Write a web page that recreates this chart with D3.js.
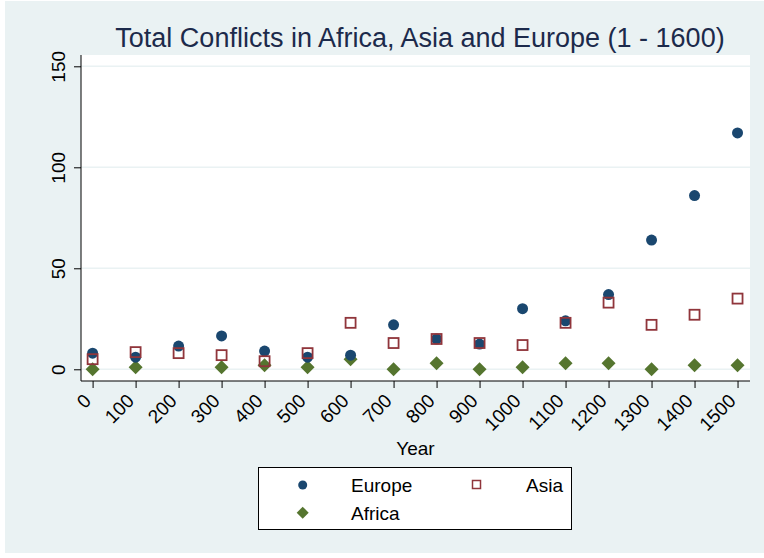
<!DOCTYPE html>
<html><head><meta charset="utf-8">
<script src="https://cdn.jsdelivr.net/npm/d3@7"></script>
<style>body{margin:0;background:#fff}svg{display:block;font-family:"Liberation Sans",Arial,sans-serif}</style>
</head><body><svg id="c" width="764" height="558"></svg>
<script>
const years = [0,100,200,300,400,500,600,700,800,900,1000,1100,1200,1300,1400,1500];
const europe = [8,6,11.5,16.5,9,6,7,22,15,12.5,30,24,37,64,86,117];
const asia = [5,8.5,8,7,4,8,23,13,15,13,12,23,33,22,27,35];
const africa = [0,1,null,1,2,1,5,0,3,0,1,3,3,0,2,2];
const yTicks = [0,50,100,150];
const title = "Total Conflicts in Africa, Asia and Europe (1 - 1600)";

const svg = d3.select("#c");
svg.append("rect").attr("x",5).attr("y",1).attr("width",759).attr("height",552).attr("fill","#eaf2f3");
const L=81,R=750,T=55,B=381;
svg.append("rect").attr("x",L).attr("y",T).attr("width",R-L).attr("height",B-T).attr("fill","#fff");
const x = d3.scaleLinear().domain([-27,1529]).range([L,R]);
const y = d3.scaleLinear().domain([-5.8,155.6]).range([B,T]);

// gridlines
svg.append("g").selectAll("line").data(yTicks).join("line")
  .attr("x1",L).attr("x2",R).attr("y1",d=>y(d)).attr("y2",d=>y(d))
  .attr("stroke","#eaf2f3").attr("stroke-width",1.5);

// y axis
const ya = svg.append("g").attr("transform",`translate(${L},0)`)
  .call(d3.axisLeft(y).tickValues(yTicks).tickSize(7).tickSizeOuter(0).tickPadding(0));
ya.select(".domain").attr("stroke","#000").attr("d",`M0,${T}V${B}`);
ya.selectAll(".tick line").attr("stroke","#000");
ya.selectAll(".tick text").attr("font-size",19).attr("fill","#000")
  .attr("text-anchor","middle").attr("transform","translate(-16,0) rotate(-90)").attr("x",0).attr("dy",0);

// x axis
const xa = svg.append("g").attr("transform",`translate(0,${B})`)
  .call(d3.axisBottom(x).tickValues(years).tickSize(7).tickSizeOuter(0).tickFormat(d3.format("d")));
xa.select(".domain").attr("stroke","#000").attr("d",`M${L},0H${R}`);
xa.selectAll(".tick line").attr("stroke","#000");
xa.selectAll(".tick text").attr("font-size",19).attr("fill","#000")
  .attr("text-anchor","end").attr("y",0).attr("dy",0)
  .attr("transform","translate(-1,21) rotate(-45)");

// axis title
svg.append("text").attr("x",(L+R)/2).attr("y",455).attr("text-anchor","middle")
  .attr("font-size",19).attr("fill","#000").text("Year");

// title
svg.append("text").attr("x",420).attr("y",47).attr("text-anchor","middle")
  .attr("font-size",27).attr("fill","#1c2a4b").text(title);

const cEU="#1a476f", cAS="#90353b", cAF="#55752f";
const diamond = s => `M0,${-s}L${s},0L0,${s}L${-s},0Z`;

// Africa diamonds
svg.append("g").selectAll("path").data(years.map((d,i)=>[d,africa[i]]).filter(d=>d[1]!=null)).join("path")
  .attr("d",diamond(7)).attr("fill",cAF)
  .attr("transform",d=>`translate(${x(d[0])},${y(d[1])})`);
// Europe circles
svg.append("g").selectAll("circle").data(years.map((d,i)=>[d,europe[i]])).join("circle")
  .attr("cx",d=>x(d[0])).attr("cy",d=>y(d[1])).attr("r",5.5).attr("fill",cEU);
// Asia squares
svg.append("g").selectAll("rect").data(years.map((d,i)=>[d,asia[i]])).join("rect")
  .attr("x",d=>x(d[0])-5).attr("y",d=>y(d[1])-5).attr("width",10).attr("height",10)
  .attr("fill","none").attr("stroke",cAS).attr("stroke-width",1.8);

// legend
const lg = svg.append("g");
lg.append("rect").attr("x",258.5).attr("y",467.5).attr("width",313).attr("height",62)
  .attr("fill","#fff").attr("stroke","#000").attr("stroke-width",1);
lg.append("circle").attr("cx",302.7).attr("cy",485).attr("r",4.5).attr("fill",cEU);
lg.append("rect").attr("x",472.5).attr("y",480.5).attr("width",8).attr("height",8)
  .attr("fill","none").attr("stroke",cAS).attr("stroke-width",1.5);
lg.append("path").attr("d",diamond(6)).attr("fill",cAF).attr("transform","translate(302.7,512.7)");
lg.append("text").attr("x",351).attr("y",492).attr("font-size",19).text("Europe");
lg.append("text").attr("x",526).attr("y",492).attr("font-size",19).text("Asia");
lg.append("text").attr("x",351).attr("y",520).attr("font-size",19).text("Africa");
</script></body></html>
